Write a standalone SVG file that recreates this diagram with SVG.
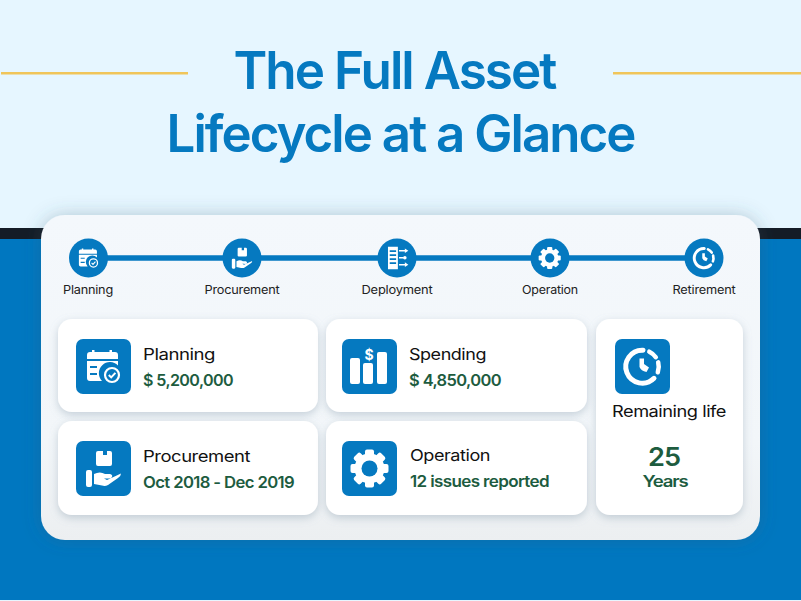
<svg xmlns="http://www.w3.org/2000/svg" width="801" height="601" viewBox="0 0 801 601">
<style>
text{font-family:"Inter","Liberation Sans",sans-serif}
.title{font-size:52px;font-weight:600;fill:#0579c0;text-anchor:middle;letter-spacing:-2px}
.step{font-size:11.5px;fill:#222;text-anchor:middle;letter-spacing:-.2px}
.h{font-size:16px;fill:#111;letter-spacing:-.4px}
.v{font-size:16px;font-weight:600;fill:#1d5c3f;letter-spacing:-.6px}
.big{font-weight:600;fill:#1d5c3f;text-anchor:middle;letter-spacing:-1px}
.card{fill:#fff;filter:url(#sh)}
.tile{fill:#0579c0}
.dot{fill:#0579c0}
.w{fill:#fff}
.ln{fill:none;stroke:#fff}
.conn{stroke:#0579c0;stroke-width:5.500;fill:none}
</style>
<defs>
<linearGradient id="pg" x1="0" y1="0" x2="0" y2="1"><stop offset="0" stop-color="#f4f8fc"/><stop offset=".7" stop-color="#f2f6f9"/><stop offset="1" stop-color="#eceff1"/></linearGradient>
<filter id="sh" x="-20%" y="-20%" width="140%" height="150%"><feDropShadow dx="0" dy="3" stdDeviation="4.500" flood-color="#7f96a8" flood-opacity=".4"/></filter>
<filter id="sh2" x="-10%" y="-10%" width="120%" height="120%"><feDropShadow dx="0" dy="0" stdDeviation="9" flood-color="#3a5a70" flood-opacity=".3"/></filter>
<symbol id="i-plan" viewBox="0 0 55 55">
<path class="w" d="M11 20V16Q11 13 14 13H16V11H18.500V13H33.500V11H36V13H39Q42 13 42 16V20Z"/>
<path class="w" fill-rule="evenodd" d="M11 22H42V26.500A11 11 0 0 0 26 42H14Q11 42 11 39ZM14 27V29H21V27ZM14 34V36H21V34Z"/>
<circle cx="36" cy="36" r="7" fill="none" stroke="#fff" stroke-width="2.200"/>
<path class="ln" d="M32.800 36L35.200 38.400L39.400 33.800" stroke-width="2"/>
</symbol>
<symbol id="i-proc" viewBox="0 0 55 55">
<path class="w" d="M20 12Q20 10 22 10H27V14H31V10H34Q36 10 36 12V23Q36 25 34 25H22Q20 25 20 23Z"/>
<path class="w" d="M10 31Q10 29 12 29H14Q16 29 16 31V44Q16 46 14 46H12Q10 46 10 44ZM18 33Q24 30 29 33H34Q37 34 36 36Q35 38 31 37.500L28 37.500L31 39L45 32.500Q45 35 42 37L32 44Q29 45.500 26 44.500L18 43Z"/>
</symbol>
<symbol id="i-dep" viewBox="0 0 55 55">
<path class="w" fill-rule="evenodd" d="M12 8H29V47H12ZM15 14V17H26V14ZM15 21V24H26V21ZM15 28V31H26V28ZM15 35V38H26V35Z"/>
<path class="ln" d="M31 15H42M31 27H39M31 39H42" stroke-width="2.500"/>
<path class="w" d="M41 11L47 15L41 19ZM41 35L47 39L41 43Z"/>
<circle class="w" cx="41" cy="27" r="3"/>
</symbol>
<symbol id="i-gear" viewBox="0 0 55 55">
<g class="w">
<circle cx="27" cy="27.500" r="15"/>
<rect x="22.500" y="8.500" width="9" height="38" rx="2"/>
<rect x="22.500" y="8.500" width="9" height="38" rx="2" transform="rotate(45 27 27.500)"/>
<rect x="22.500" y="8.500" width="9" height="38" rx="2" transform="rotate(90 27 27.500)"/>
<rect x="22.500" y="8.500" width="9" height="38" rx="2" transform="rotate(135 27 27.500)"/>
</g>
<circle cx="27" cy="27.500" r="8" fill="#0579c0"/>
</symbol>
<symbol id="i-clock" viewBox="0 0 55 55">
<path class="ln" stroke-width="5" stroke-linecap="round" d="M28 11.200A16.500 16.500 0 1 0 39 39.300"/>
<path class="ln" stroke-width="4.500" stroke-linecap="round" d="M34.300 12.700A16.500 16.500 0 0 1 40.800 18.200"/>
<path class="ln" stroke-width="4.500" stroke-linecap="round" d="M43.200 23.400A16.500 16.500 0 0 1 42.800 33.300"/>
<path class="w" d="M24.500 19.500H29V25L34 28.500L31.500 33Q26 32 24.500 28Z"/>
</symbol>
</defs>
<rect width="801" height="601" fill="#e6f6ff"/>
<rect y="228" width="801" height="11" fill="#141c26"/>
<rect y="239" width="801" height="361" fill="#0077c0"/>
<g id="title">
<rect x="1" y="72" width="187" height="2.500" fill="#f0c55a"/>
<rect x="613" y="72" width="188" height="2.500" fill="#f0c55a"/>
<text class="title" x="394.500" y="89" textLength="322" lengthAdjust="spacingAndGlyphs">The Full Asset</text>
<text class="title" x="400.500" y="152" textLength="468" lengthAdjust="spacingAndGlyphs">Lifecycle at a Glance</text>
</g>
<rect id="panel" x="41" y="215" width="719" height="325" rx="24" fill="url(#pg)" filter="url(#sh2)"/>
<g id="connectors"><path class="conn" d="M88 258H704"/></g>
<g id="step-planning"><circle class="dot" cx="88.500" cy="258" r="19.500"/><use href="#i-plan" x="72.500" y="242" width="32" height="32"/><text class="step" x="88" y="294" textLength="50" lengthAdjust="spacingAndGlyphs">Planning</text></g>
<g id="step-procurement"><circle class="dot" cx="242" cy="258" r="19.500"/><use href="#i-proc" x="226" y="242" width="32" height="32"/><text class="step" x="242" y="294" textLength="75" lengthAdjust="spacingAndGlyphs">Procurement</text></g>
<g id="step-deployment"><circle class="dot" cx="397" cy="258" r="19.500"/><use href="#i-dep" x="381" y="242" width="32" height="32"/><text class="step" x="397" y="294" textLength="71" lengthAdjust="spacingAndGlyphs">Deployment</text></g>
<g id="step-operation"><circle class="dot" cx="550" cy="258" r="19.500"/><use href="#i-gear" x="534" y="242" width="32" height="32"/><text class="step" x="550" y="294" textLength="56" lengthAdjust="spacingAndGlyphs">Operation</text></g>
<g id="step-retirement"><circle class="dot" cx="704" cy="258" r="19.500"/><use href="#i-clock" x="688" y="242" width="32" height="32"/><text class="step" x="704" y="294" textLength="63" lengthAdjust="spacingAndGlyphs">Retirement</text></g>
<g id="card-planning"><rect class="card" x="58" y="319" width="260" height="93" rx="14"/><rect class="tile" x="76" y="339" width="55" height="55" rx="7"/><use href="#i-plan" x="76" y="339" width="55" height="55"/><text class="h" x="143" y="360" textLength="72" lengthAdjust="spacingAndGlyphs">Planning</text><text class="v" x="143" y="386" textLength="90" lengthAdjust="spacingAndGlyphs">$ 5,200,000</text></g>
<g id="card-procurement"><rect class="card" x="58" y="421" width="260" height="94" rx="14"/><rect class="tile" x="76" y="441" width="55" height="55" rx="7"/><use href="#i-proc" x="76" y="441" width="55" height="55"/><text class="h" x="143" y="462" textLength="107" lengthAdjust="spacingAndGlyphs">Procurement</text><text class="v" x="143" y="488" textLength="151" lengthAdjust="spacingAndGlyphs">Oct 2018 - Dec 2019</text></g>
<g id="card-spending"><rect class="card" x="326" y="319" width="261" height="93" rx="14"/><rect class="tile" x="342" y="339" width="55" height="55" rx="7"/><rect class="w" x="350" y="352" width="10" height="32" rx="2" style="display:none"/><rect class="w" x="350" y="358" width="10" height="26" rx="2"/><rect class="w" x="363" y="363" width="10" height="21" rx="2"/><rect class="w" x="377" y="352" width="10" height="32" rx="2"/><text x="369" y="360" font-size="14" font-weight="700" fill="#fff" text-anchor="middle">$</text><text class="h" x="409" y="360" textLength="77" lengthAdjust="spacingAndGlyphs">Spending</text><text class="v" x="409" y="386" textLength="92" lengthAdjust="spacingAndGlyphs">$ 4,850,000</text></g>
<g id="card-operation"><rect class="card" x="326" y="421" width="261" height="94" rx="14"/><rect class="tile" x="342" y="441" width="55" height="55" rx="7"/><use href="#i-gear" x="342.500" y="441" width="55" height="55"/><text class="h" x="410" y="461" textLength="80" lengthAdjust="spacingAndGlyphs">Operation</text><text class="v" x="410" y="487" textLength="139" lengthAdjust="spacingAndGlyphs">12 issues reported</text></g>
<g id="card-remaining"><rect class="card" x="596" y="319" width="147" height="196" rx="14"/><rect class="tile" x="615" y="339" width="55" height="55" rx="7"/><use href="#i-clock" x="615" y="339" width="55" height="55"/><text class="h" x="669" y="417" text-anchor="middle" textLength="114" lengthAdjust="spacingAndGlyphs">Remaining life</text><text class="big" x="664" y="466" font-size="26" textLength="32" lengthAdjust="spacingAndGlyphs">25</text><text class="big" x="665" y="487" font-size="16" textLength="45" lengthAdjust="spacingAndGlyphs">Years</text></g>
</svg>
